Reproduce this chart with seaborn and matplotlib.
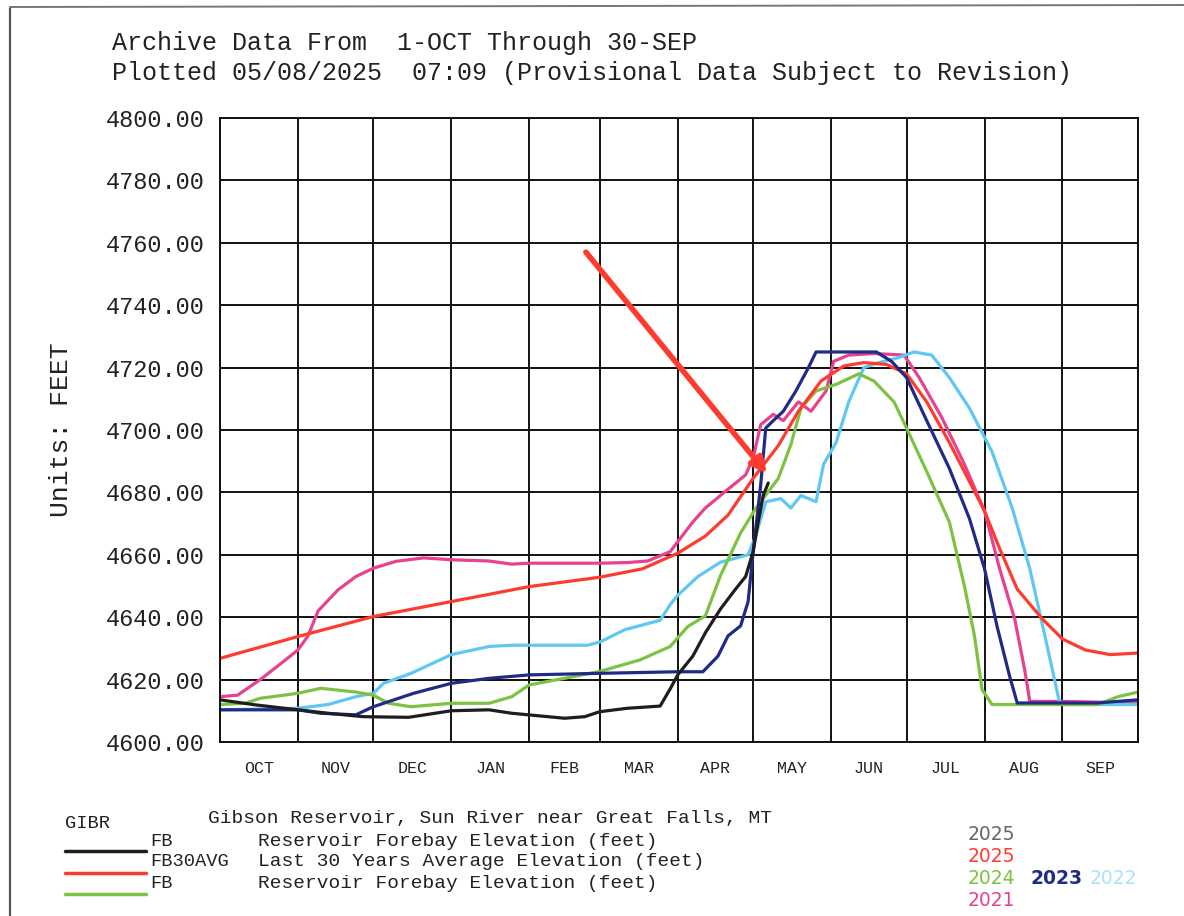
import numpy as np
import pandas as pd
import matplotlib.pyplot as plt
from matplotlib.lines import Line2D
import seaborn as sns

# day of water year (0 = 1-OCT) and forebay elevation (feet)
days_2025 = [0, 14, 31, 43, 57, 75, 92, 107, 116, 137, 145, 151, 162, 175, 179, 182,
             188, 193, 199, 205, 209, 212, 214, 216, 218]
elev_2025 = [4613.5, 4611.9, 4610.3, 4609.2, 4608.1, 4607.9, 4610.0, 4610.3, 4609.2,
             4607.6, 4608.1, 4609.7, 4610.8, 4611.5, 4617.0, 4621.5, 4627.5, 4635.0,
             4642.6, 4649.0, 4653.0, 4661.0, 4670.5, 4679.0, 4683.0]

days_avg = [0, 31, 61, 92, 123, 151, 168, 182, 193, 202, 212, 222, 230, 239, 248, 256,
            265, 273, 281, 290, 298, 304, 310, 317, 327, 335, 344, 354, 365]
elev_avg = [4626.8, 4633.8, 4640.2, 4645.0, 4649.8, 4652.8, 4655.5, 4660.5, 4666.0,
            4672.7, 4684.5, 4695.0, 4706.0, 4715.7, 4720.5, 4721.6, 4721.0, 4718.0,
            4709.0, 4696.0, 4683.5, 4674.0, 4662.0, 4649.0, 4639.4, 4633.0, 4629.5,
            4628.0, 4628.5]

days_2024 = [0, 10, 16, 31, 40, 54, 61, 67, 76, 92, 107, 116, 123, 137, 151, 167, 179,
             186, 193, 199, 207, 213, 222, 227, 231, 237, 245, 254, 260, 268, 273, 281,
             290, 296, 300, 303, 307, 349, 357, 365]
elev_2024 = [4612.0, 4612.4, 4614.0, 4615.6, 4617.2, 4616.0, 4615.0, 4612.4, 4611.3,
             4612.4, 4612.4, 4614.5, 4618.3, 4620.4, 4622.6, 4626.3, 4630.6, 4637.0,
             4640.4, 4653.3, 4667.0, 4674.8, 4684.5, 4695.3, 4707.0, 4712.5, 4714.6,
             4718.0, 4715.7, 4709.0, 4700.6, 4686.7, 4670.5, 4650.0, 4634.0, 4616.8,
             4612.0, 4612.0, 4614.5, 4616.0]

days_2023 = [0, 31, 40, 54, 61, 77, 92, 107, 123, 151, 182, 192, 198, 202, 207, 210,
             212, 215, 217, 220, 224, 229, 234, 237, 261, 267, 273, 281, 290, 298, 304,
             309, 314, 317, 349, 365]
elev_2023 = [4610.3, 4610.3, 4609.2, 4608.7, 4611.3, 4615.6, 4618.8, 4620.4, 4621.5,
             4622.0, 4622.5, 4622.5, 4627.5, 4634.0, 4637.2, 4645.0, 4661.0, 4682.4,
             4700.6, 4703.0, 4706.0, 4712.5, 4720.0, 4725.0, 4725.0, 4722.0, 4716.8,
             4703.0, 4687.7, 4671.6, 4655.5, 4637.0, 4621.0, 4612.5, 4612.5, 4613.5]

days_2022 = [0, 31, 43, 54, 61, 65, 76, 92, 107, 116, 146, 151, 161, 175, 179, 182, 190,
             199, 210, 213, 217, 223, 227, 231, 237, 240, 245, 250, 256, 262, 269, 276,
             283, 290, 298, 307, 315, 322, 328, 334, 365]
elev_2022 = [4610.3, 4610.8, 4612.0, 4614.5, 4615.6, 4618.8, 4622.0, 4628.0, 4630.6,
             4631.0, 4631.0, 4632.0, 4636.0, 4639.0, 4644.0, 4647.0, 4653.0, 4657.6,
             4660.0, 4666.0, 4677.0, 4678.0, 4675.0, 4679.0, 4677.0, 4689.0, 4696.0,
             4709.0, 4720.0, 4721.6, 4723.0, 4725.0, 4724.0, 4716.8, 4707.0, 4693.0,
             4675.0, 4655.5, 4634.0, 4612.0, 4612.0]

days_2021 = [0, 7, 16, 24, 31, 35, 39, 47, 54, 61, 70, 81, 92, 107, 116, 123, 151, 162,
             170, 179, 188, 193, 202, 209, 212, 215, 220, 224, 230, 235, 241, 244, 250,
             260, 272, 278, 287, 296, 304, 310, 316, 320, 322, 335, 365]
elev_2021 = [4614.5, 4615.0, 4620.0, 4625.0, 4629.5, 4634.0, 4642.0, 4648.8, 4653.0,
             4655.7, 4657.9, 4659.0, 4658.4, 4658.0, 4657.0, 4657.3, 4657.3, 4657.5,
             4658.0, 4661.0, 4670.5, 4675.0, 4681.0, 4685.6, 4691.0, 4701.7, 4705.0,
             4703.0, 4709.0, 4706.0, 4712.5, 4722.0, 4724.0, 4724.5, 4724.0, 4716.8,
             4704.0, 4689.0, 4674.0, 4655.5, 4639.4, 4623.0, 4613.0, 4613.0, 4612.5]

month_names = ["OCT", "NOV", "DEC", "JAN", "FEB", "MAR", "APR", "MAY", "JUN", "JUL",
               "AUG", "SEP"]
month_starts = [0, 31, 61, 92, 123, 151, 182, 212, 243, 273, 304, 335, 365]
y_ticks = list(range(4600, 4801, 20))

colors = {
    "2021": "#e8418f",
    "2022": "#5ec8f2",
    "2023": "#1f2b85",
    "2024": "#7dc243",
    "avg": "#ff3b30",
    "2025": "#1e1e1e",
}

series = [
    ("2021", days_2021, elev_2021),
    ("2022", days_2022, elev_2022),
    ("2024", days_2024, elev_2024),
    ("avg", days_avg, elev_avg),
    ("2023", days_2023, elev_2023),
    ("2025", days_2025, elev_2025),
]
df = pd.concat([pd.DataFrame({"day": d, "elev": e, "series": name})
                for name, d, e in series], ignore_index=True)

sns.set_style("white")
plt.rcParams["font.family"] = ["Liberation Mono", "DejaVu Sans Mono"]

fig = plt.figure(figsize=(11.84, 9.16), dpi=100)
ax = fig.add_axes([0.1858, 0.19, 0.7753, 0.6812])

sns.lineplot(data=df, x="day", y="elev", hue="series", palette=colors,
             estimator=None, sort=False, legend=False, linewidth=2.3, ax=ax)

ax.set_xlim(0, 365)
ax.set_ylim(4600, 4800)

# grid at month boundaries and every 20 ft
for d in month_starts:
    ax.axvline(d, color="#111111", lw=1.4, zorder=0)
for v in y_ticks:
    ax.axhline(v, color="#111111", lw=1.4, zorder=0)

ax.set_yticks(y_ticks)
ax.set_yticklabels([f"{v:.2f}" for v in y_ticks], fontsize=17, color="#222222")
ax.set_xticks(month_starts)
ax.set_xticklabels([])
mids = [(a + b) / 2 for a, b in zip(month_starts[:-1], month_starts[1:])]
ax.set_xticks(mids, minor=True)
ax.set_xticklabels(month_names, minor=True, fontsize=12, color="#222222")
ax.tick_params(axis="y", which="major", length=10, width=1.3, color="#111111", pad=1)
ax.tick_params(axis="x", which="major", length=11, width=1.3, color="#111111")
ax.tick_params(axis="x", which="minor", length=0, pad=14)
for s in ax.spines.values():
    s.set_color("#111111")
    s.set_linewidth(1.4)
ax.set_xlabel("")
ax.set_ylabel("Units: FEET", fontsize=19, labelpad=24, color="#222222")

# hand drawn arrow on the scan
arrow_start = (145.5, 4757)
arrow_end = (217.5, 4686)
ax.annotate("", xy=arrow_end, xytext=arrow_start,
            arrowprops=dict(arrowstyle="-|>", color="#ff3b30", lw=4,
                            mutation_scale=22, shrinkA=0, shrinkB=0))

# header
fig.text(112 / 1184, 1 - 43 / 916, "Archive Data From  1-OCT Through 30-SEP",
         fontsize=18, va="center", color="#222222")
fig.text(112 / 1184, 1 - 73 / 916,
         "Plotted 05/08/2025  07:09 (Provisional Data Subject to Revision)",
         fontsize=18, va="center", color="#222222")

# legend block
fig.text(65 / 1184, 1 - 823 / 916, "GIBR", fontsize=13.5, va="center", color="#222222")
fig.text(208 / 1184, 1 - 818 / 916, "Gibson Reservoir, Sun River near Great Falls, MT",
         fontsize=14, va="center", color="#222222")
legend_rows = [
    ("FB", "Reservoir Forebay Elevation (feet)", colors["2025"], 841, 851),
    ("FB30AVG", "Last 30 Years Average Elevation (feet)", colors["avg"], 862, 873),
    ("FB", "Reservoir Forebay Elevation (feet)", colors["2024"], 884, 894),
]
for code, desc, col, ty, ly in legend_rows:
    fig.add_artist(Line2D([65 / 1184, 146 / 1184], [1 - ly / 916, 1 - ly / 916],
                          color=col, lw=2.5))
    fig.text(150 / 1184, 1 - ty / 916, code, fontsize=13.5, va="center", color="#222222")
    fig.text(258 / 1184, 1 - ty / 916, desc, fontsize=14, va="center", color="#222222")

year_labels = [
    ("2025", "#666666", 968, 835, "normal"),
    ("2025", colors["avg"], 968, 857, "normal"),
    ("2024", colors["2024"], 968, 879, "normal"),
    ("2023", colors["2023"], 1030, 878, "bold"),
    ("2022", "#a8e4f7", 1090, 879, "normal"),
    ("2021", colors["2021"], 968, 901, "normal"),
]
for txt, col, x, y, w in year_labels:
    fig.text(x / 1184, 1 - y / 916, txt, fontsize=13.5, color=col, va="center",
             fontweight=w, family=["DejaVu Sans"])

# page border of the scan
fig.add_artist(Line2D([10 / 1184, 10 / 1184], [0, 1 - 8 / 916], color="#555555", lw=1.6))
fig.add_artist(Line2D([10 / 1184, 1], [1 - 7 / 916, 1 - 5 / 916], color="#777777", lw=1.4))

fig.savefig("out.png", dpi=100)
